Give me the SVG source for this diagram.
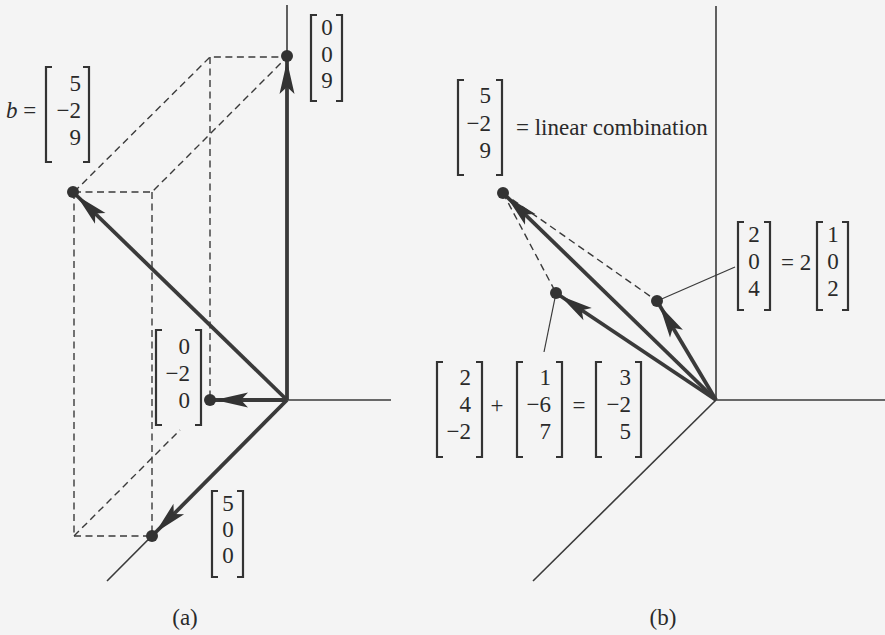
<svg xmlns="http://www.w3.org/2000/svg" width="885" height="635" viewBox="0 0 885 635">
<style>
.axis{stroke:#3a3a3a;stroke-width:1.6;fill:none}
.vec{stroke:#3a3a3a;stroke-width:3.8;fill:none;marker-end:url(#ah)}
.dash{stroke:#3a3a3a;stroke-width:1.4;fill:none;stroke-dasharray:7 4.5}
.lead{stroke:#3a3a3a;stroke-width:1.2;fill:none}
.br{stroke:#333;stroke-width:2.2;fill:none}
.dot{fill:#333}
text{font-family:"Liberation Serif","Times New Roman",serif;font-size:23px;fill:#2a2a2a}
.e{text-anchor:end}
.m{text-anchor:middle}
</style>
<defs>
<marker id="ah" markerUnits="userSpaceOnUse" viewBox="0 0 40 16" markerWidth="40" markerHeight="16" refX="40" refY="8" orient="auto">
<path d="M35,8 L2,0.5 L9,8 L2,15.5 Z" fill="#333"/>
</marker>
</defs>
<rect width="885" height="635" fill="#f4f4f4"/>

<g id="connectors">
<line class="axis" x1="287" y1="5" x2="287" y2="400"/>
<line class="axis" x1="287" y1="400" x2="391" y2="400"/>
<line class="axis" x1="287" y1="400" x2="107" y2="581"/>
<polyline class="dash" points="74,192 152,192 287,57"/>
<polyline class="dash" points="74,192 210,57 287,57"/>
<line class="dash" x1="74" y1="192" x2="74" y2="536"/>
<line class="dash" x1="152" y1="192" x2="152" y2="536"/>
<line class="dash" x1="210" y1="57" x2="210" y2="400"/>
<line class="dash" x1="74" y1="536" x2="152" y2="536"/>
<line class="dash" x1="74" y1="536" x2="180" y2="430"/>
<line class="vec" x1="287" y1="400" x2="287" y2="56"/>
<line class="vec" x1="287" y1="400" x2="73" y2="192"/>
<line class="vec" x1="287" y1="400" x2="210" y2="400"/>
<line class="vec" x1="287" y1="400" x2="152" y2="536"/>

<line class="axis" x1="716" y1="6" x2="716" y2="400"/>
<line class="axis" x1="716" y1="400" x2="885" y2="400"/>
<line class="axis" x1="716" y1="400" x2="533" y2="581"/>
<line class="dash" x1="503" y1="193" x2="556" y2="293"/>
<line class="dash" x1="503" y1="193" x2="657" y2="301"/>
<line class="vec" x1="716" y1="400" x2="503" y2="193"/>
<line class="vec" x1="716" y1="400" x2="556" y2="293"/>
<line class="vec" x1="716" y1="400" x2="657" y2="301"/>
<line class="lead" x1="657" y1="301" x2="735" y2="267"/>
<line class="lead" x1="556" y1="293" x2="544" y2="352"/>
</g>

<g id="points">
<circle class="dot" cx="287" cy="56" r="6"/>
<circle class="dot" cx="73" cy="192" r="6"/>
<circle class="dot" cx="210" cy="400" r="6"/>
<circle class="dot" cx="152" cy="536" r="6"/>
<circle class="dot" cx="503" cy="193" r="6"/>
<circle class="dot" cx="556" cy="293" r="6"/>
<circle class="dot" cx="657" cy="301" r="6"/>
</g>

<g id="label-b">
<text x="6" y="118"><tspan font-style="italic">b</tspan> =</text>
<path class="br" d="M52,67 H46 V162 H52 M83,67 H89 V162 H83"/>
<text class="e" x="81" y="91">5</text>
<text class="e" x="81" y="118">−2</text>
<text class="e" x="81" y="145">9</text>
</g>

<g id="label-z">
<path class="br" d="M317,15 H311 V101 H317 M336,15 H342 V101 H336"/>
<text class="m" x="327" y="35">0</text>
<text class="m" x="327" y="62">0</text>
<text class="m" x="327" y="88">9</text>
</g>

<g id="label-y">
<path class="br" d="M162,330 H156 V425 H162 M195,330 H201 V425 H195"/>
<text class="e" x="190" y="354">0</text>
<text class="e" x="190" y="381">−2</text>
<text class="e" x="190" y="408">0</text>
</g>

<g id="label-x">
<path class="br" d="M218,491 H212 V577 H218 M237,491 H243 V577 H237"/>
<text class="m" x="228" y="511">5</text>
<text class="m" x="228" y="537">0</text>
<text class="m" x="228" y="563">0</text>
</g>

<text class="m" x="185" y="625">(a)</text>

<g id="label-lincomb">
<path class="br" d="M464,80 H458 V175 H464 M496,80 H502 V175 H496"/>
<text class="e" x="491" y="103">5</text>
<text class="e" x="491" y="131">−2</text>
<text class="e" x="491" y="158">9</text>
<text x="516" y="135">= linear combination</text>
</g>

<g id="label-204">
<path class="br" d="M744,222 H738 V310 H744 M764,222 H770 V310 H764"/>
<text class="m" x="754" y="242">2</text>
<text class="m" x="754" y="269">0</text>
<text class="m" x="754" y="296">4</text>
<text x="781" y="270">= 2</text>
<path class="br" d="M823,222 H817 V310 H823 M842,222 H848 V310 H842"/>
<text class="m" x="833" y="242">1</text>
<text class="m" x="833" y="269">0</text>
<text class="m" x="833" y="296">2</text>
</g>

<g id="label-sum">
<path class="br" d="M443,362 H437 V457 H443 M476,362 H482 V457 H476"/>
<text class="e" x="471" y="385">2</text>
<text class="e" x="471" y="412">4</text>
<text class="e" x="471" y="439">−2</text>
<text class="m" x="497" y="413">+</text>
<path class="br" d="M523,362 H517 V457 H523 M556,362 H562 V457 H556"/>
<text class="e" x="551" y="385">1</text>
<text class="e" x="551" y="412">−6</text>
<text class="e" x="551" y="439">7</text>
<text class="m" x="579" y="413">=</text>
<path class="br" d="M602,362 H596 V457 H602 M635,362 H641 V457 H635"/>
<text class="e" x="631" y="385">3</text>
<text class="e" x="631" y="412">−2</text>
<text class="e" x="631" y="439">5</text>
</g>

<text class="m" x="663" y="625">(b)</text>
</svg>
